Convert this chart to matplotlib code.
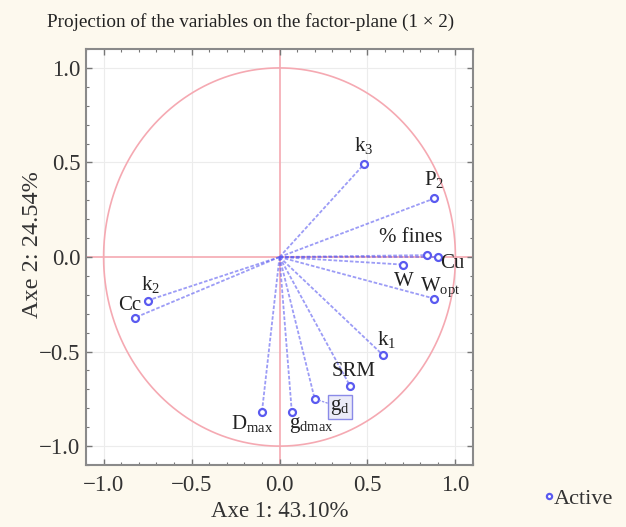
import matplotlib
matplotlib.use("Agg")
import matplotlib.pyplot as plt
import numpy as np
from matplotlib.ticker import MultipleLocator, FuncFormatter

plt.rcParams['font.family'] = ['Liberation Serif', 'DejaVu Serif']
plt.rcParams['mathtext.fontset'] = 'custom'
plt.rcParams['mathtext.rm'] = 'Liberation Serif'
plt.rcParams['mathtext.it'] = 'Liberation Serif'

# Factor loadings of the active variables on axes 1 and 2
variables = ['k_3', 'P_2', '% fines', 'Cu', 'W', 'W_opt', 'k_2', 'Cc',
             'k_1', 'SRM', 'g_d', 'g_dmax', 'D_max']
axis1 = [0.48, 0.88, 0.84, 0.90, 0.70, 0.88, -0.75, -0.82,
         0.59, 0.40, 0.20, 0.07, -0.10]
axis2 = [0.49, 0.31, 0.01, 0.00, -0.04, -0.22, -0.23, -0.32,
         -0.52, -0.68, -0.75, -0.82, -0.82]

label_text = {
    'k_3': r'$\mathrm{k_3}$', 'P_2': r'$\mathrm{P_2}$', '% fines': '% fines',
    'Cu': 'Cu', 'W': 'W', 'W_opt': r'$\mathrm{W_{opt}}$', 'k_2': r'$\mathrm{k_2}$',
    'Cc': 'Cc', 'k_1': r'$\mathrm{k_1}$', 'SRM': 'SRM', 'g_d': r'$\mathrm{g_d}$',
    'g_dmax': r'$\mathrm{g_{dmax}}$', 'D_max': r'$\mathrm{D_{max}}$',
}
# label offsets in points (dx, dy) and alignment
label_off = {
    'k_3': (0, 6, 'center', 'bottom'), 'P_2': (0, 6, 'center', 'bottom'),
    '% fines': (-12, 6, 'center', 'bottom'), 'Cu': (2, -5, 'left', 'center'),
    'W': (1, -5, 'center', 'top'), 'W_opt': (4, 0, 'center', 'bottom'),
    'k_2': (2, 4, 'center', 'bottom'), 'Cc': (-4, 2, 'center', 'bottom'),
    'k_1': (2, 4, 'center', 'bottom'), 'SRM': (3, 3, 'center', 'bottom'),
    'g_d': (18, -6, 'center', 'center'), 'g_dmax': (14, -2, 'center', 'top'),
    'D_max': (-7, -1, 'center', 'top'),
}

bg = '#fdf9ee'
pink = '#f5a9b2'
blue = '#5a5af0'

fig = plt.figure(figsize=(6.26, 5.27), dpi=100, facecolor=bg)
ax = fig.add_axes([0.1374, 0.1176, 0.6182, 0.7894])
ax.set_facecolor('white')

ax.set_xlim(-1.1, 1.1)
ax.set_ylim(-1.1, 1.1)

# grid
for v in [-1.0, -0.5, 0.5, 1.0]:
    ax.axvline(v, color='#ececec', lw=0.8, zorder=0)
    ax.axhline(v, color='#ececec', lw=0.8, zorder=0)

# unit circle and zero axes
t = np.linspace(0, 2 * np.pi, 400)
ax.plot(np.cos(t), np.sin(t), color=pink, lw=1.2, zorder=1)
ax.axhline(0, color=pink, lw=1.2, zorder=1)
ax.axvline(0, color=pink, lw=1.2, zorder=1)

for name, x, y in zip(variables, axis1, axis2):
    ax.plot([0, x], [0, y], color=blue, alpha=0.6, lw=1.3, ls=(0, (2, 1)), zorder=2)
ax.plot(axis1, axis2, ls='none', marker='o', ms=5, mfc='white', mec=blue,
        mew=1.6, zorder=3, label='Active')

for name, x, y in zip(variables, axis1, axis2):
    dx, dy, ha, va = label_off[name]
    kw = {}
    if name == 'g_d':
        kw['bbox'] = dict(boxstyle='square,pad=0.1', fc='#ebebf8', ec='#8a8ae8', lw=1)
        kw['arrowprops'] = dict(arrowstyle='-', color='#9a9af0', lw=1, ls=':',
                                shrinkA=0, shrinkB=4)
    ax.annotate(label_text[name], (x, y), xytext=(dx, dy), textcoords='offset points',
                ha=ha, va=va, fontsize=15, color='#222222', zorder=4, **kw)

ax.xaxis.set_major_locator(MultipleLocator(0.5))
ax.yaxis.set_major_locator(MultipleLocator(0.5))
ax.xaxis.set_minor_locator(MultipleLocator(0.1))
ax.yaxis.set_minor_locator(MultipleLocator(0.1))
fmt = FuncFormatter(lambda v, p: f'{v:.1f}'.replace('-', '\u2212'))
ax.xaxis.set_major_formatter(fmt)
ax.yaxis.set_major_formatter(fmt)
ax.tick_params(which='both', direction='in', top=True, right=True, color='#777777')
ax.tick_params(which='major', length=4, width=1, labelsize=16.5, labelcolor='#333333')
ax.tick_params(axis='x', which='major', pad=7)
ax.tick_params(axis='y', which='major', pad=4)
ax.tick_params(which='minor', length=2.5, width=0.8)
for s in ax.spines.values():
    s.set_color('#8a8a8a')
    s.set_linewidth(1.5)

ax.set_xlabel('Axe 1: 43.10%', fontsize=16.5, color='#333333', labelpad=4)
fig.text(33 / 626, 1 - 245 / 527, 'Axe 2: 24.54%', rotation=90, fontsize=17.5,
         color='#333333', ha='center', va='center')
fig.text(0.075, 0.958, 'Projection of the variables on the factor-plane (1 \u00d7 2)',
         fontsize=13.8, color='#222222', ha='left', va='center')

fig.legend(handles=ax.get_lines()[-1:], loc='center left', bbox_to_anchor=(0.84, 0.054),
           frameon=False, fontsize=16, handlelength=0.25, handletextpad=0.1,
           markerscale=0.75, labelcolor='#333333')

fig.savefig('out.png', dpi=100, facecolor=bg)
